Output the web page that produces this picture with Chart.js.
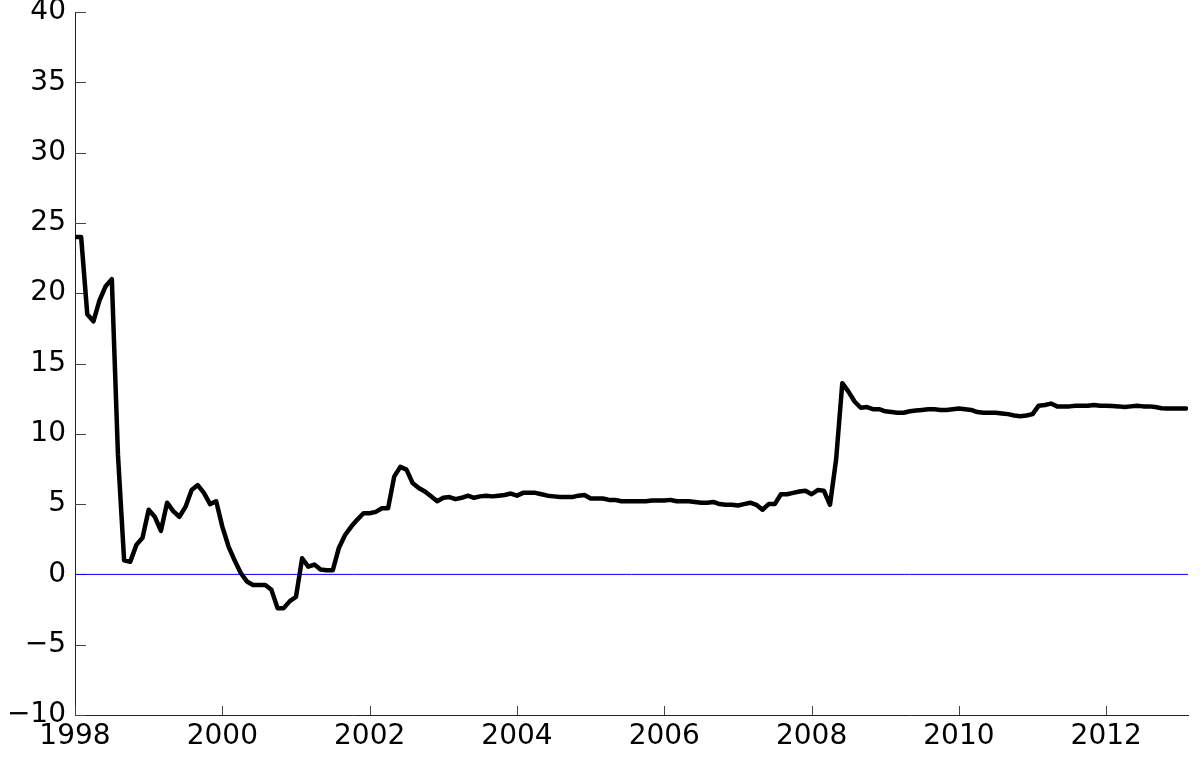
<!DOCTYPE html>
<html>
<head>
<meta charset="utf-8">
<title>Series 1998-2013</title>
<script src="https://cdn.jsdelivr.net/npm/chart.js@4.4.1/dist/chart.umd.min.js"></script>
<style>
  html, body { margin: 0; padding: 0; background: #fff; }
  #wrap { width: 1200px; height: 762px; position: relative; }
</style>
</head>
<body>
<div id="wrap"><canvas id="lineChart"></canvas></div>
<script>
// monthly values, first one is Jan 1998
var startYear = 1998;
var values1998 = [24, 24, 18.5, 18, 19.5, 20.5, 21, 8.5, 1.0, 0.9, 2.1, 2.6];
var values1999 = [4.6, 4.1, 3.1, 5.1, 4.5, 4.1, 4.8, 6.0, 6.35, 5.8, 5.0, 5.2];
var values2000 = [3.4, 2.0, 1.0, 0.1, -0.5, -0.75, -0.75, -0.75, -1.1, -2.4, -2.4, -1.9];
var values2001 = [-1.6, 1.15, 0.55, 0.7, 0.35, 0.3, 0.3, 1.9, 2.8, 3.4, 3.9, 4.35];
var values2002 = [4.35, 4.45, 4.7, 4.7, 6.95, 7.65, 7.45, 6.5, 6.15, 5.9, 5.55, 5.2];
var values2003 = [5.45, 5.5, 5.35, 5.45, 5.6, 5.45, 5.55, 5.6, 5.55, 5.6, 5.65, 5.75];
var values2004 = [5.6, 5.8, 5.8, 5.8, 5.7, 5.6, 5.55, 5.5, 5.5, 5.5, 5.6, 5.65];
var values2005 = [5.4, 5.4, 5.4, 5.3, 5.3, 5.2, 5.2, 5.2, 5.2, 5.2, 5.25, 5.25];
var values2006 = [5.25, 5.3, 5.2, 5.2, 5.2, 5.15, 5.1, 5.1, 5.15, 5.0, 4.95, 4.95];
var values2007 = [4.9, 5.0, 5.1, 4.95, 4.6, 5.0, 5.0, 5.7, 5.7, 5.8, 5.9, 5.95];
var values2008 = [5.7, 6.0, 5.95, 4.95, 8.2, 13.6, 13.0, 12.3, 11.85, 11.9, 11.75, 11.75];
var values2009 = [11.6, 11.55, 11.5, 11.5, 11.6, 11.65, 11.7, 11.75, 11.75, 11.7, 11.7, 11.75];
var values2010 = [11.8, 11.75, 11.7, 11.55, 11.5, 11.5, 11.5, 11.45, 11.4, 11.3, 11.25, 11.3];
var values2011 = [11.4, 12.0, 12.05, 12.15, 11.95, 11.95, 11.95, 12.0, 12.0, 12.0, 12.05, 12.0];
var values2012 = [12.0, 11.98, 11.95, 11.9, 11.95, 12.0, 11.95, 11.95, 11.9, 11.82, 11.8, 11.8];
var values2013 = [11.8, 11.8];

var xTicks = [1998, 2000, 2002, 2004, 2006, 2008, 2010, 2012];
var yTicks = [-10, -5, 0, 5, 10, 15, 20, 25, 30, 35, 40];
var xMin = 1998, xMax = 2013.11;
var yMin = -10, yMax = 40;

var allValues = [].concat(values1998, values1999, values2000, values2001, values2002,
    values2003, values2004, values2005, values2006, values2007, values2008,
    values2009, values2010, values2011, values2012, values2013);

var seriesPoints = [];
allValues.forEach(function (v, i) {
    seriesPoints.push({ x: startYear + i / 12, y: v });
});

var zeroLine = [{ x: xMin, y: 0 }, { x: xMax, y: 0 }];

var labelFont = { family: "'DejaVu Sans', Arial, sans-serif", size: 28 };

// inward tick marks, like the original plot
var tickMarks = {
    id: 'tickMarks',
    beforeDatasetsDraw: function (chart) {
        var ctx = chart.ctx;
        var area = chart.chartArea;
        var xs = chart.scales.x, ys = chart.scales.y;
        ctx.save();
        ctx.strokeStyle = '#444';
        ctx.lineWidth = 1;
        ctx.beginPath();
        yTicks.forEach(function (t) {
            var py = Math.round(ys.getPixelForValue(t)) + 0.5;
            ctx.moveTo(area.left, py);
            ctx.lineTo(area.left + 11, py);
        });
        xTicks.forEach(function (t) {
            var px = Math.round(xs.getPixelForValue(t)) + 0.5;
            ctx.moveTo(px, area.bottom);
            ctx.lineTo(px, area.bottom - 9);
        });
        ctx.stroke();
        ctx.restore();
    }
};

var ctx = document.getElementById('lineChart').getContext('2d');

var config = {
    type: 'line',
    data: {
        datasets: [
            {
                label: 'series',
                data: seriesPoints,
                borderColor: '#000',
                borderWidth: 4.5,
                pointRadius: 0,
                tension: 0,
                borderJoinStyle: 'round',
                borderCapStyle: 'round',
                order: 0,
            },
            {
                label: 'zero',
                data: zeroLine,
                borderColor: '#0000ff',
                borderWidth: 1,
                pointRadius: 0,
                order: 1,
            },
        ],
    },
    options: {
        responsive: false,
        animation: false,
        events: [],
        layout: { padding: { top: 12, right: 12, left: 0, bottom: 0 } },
        plugins: {
            legend: { display: false },
            tooltip: { enabled: false },
        },
        scales: {
            x: {
                type: 'linear',
                min: xMin,
                max: xMax,
                grid: { display: false, drawTicks: false },
                border: { display: true, color: '#222', width: 1 },
                ticks: {
                    color: '#000',
                    font: labelFont,
                    padding: 5,
                    maxRotation: 0,
                    autoSkip: false,
                    callback: function (v) { return String(v); },
                },
                afterBuildTicks: function (scale) {
                    scale.ticks = xTicks.map(function (v) { return { value: v }; });
                },
                afterFit: function (scale) {
                    scale.height = 47;
                    scale.paddingLeft = 0;
                    scale.paddingRight = 0;
                },
            },
            y: {
                type: 'linear',
                min: yMin,
                max: yMax,
                grid: { display: false, drawTicks: false },
                border: { display: true, color: '#222', width: 1 },
                ticks: {
                    color: '#000',
                    font: labelFont,
                    padding: 9,
                    autoSkip: false,
                    callback: function (v) { return v < 0 ? '\u2212' + Math.abs(v) : String(v); },
                },
                afterBuildTicks: function (scale) {
                    scale.ticks = yTicks.map(function (v) { return { value: v }; });
                },
                afterFit: function (scale) {
                    scale.width = 75;
                    scale.paddingTop = 0;
                    scale.paddingBottom = 0;
                },
            },
        },
    },
    plugins: [tickMarks],
};

var canvas = document.getElementById('lineChart');
canvas.width = 1200;
canvas.height = 762;
var myChart = new Chart(ctx, config);
</script>
</body>
</html>
